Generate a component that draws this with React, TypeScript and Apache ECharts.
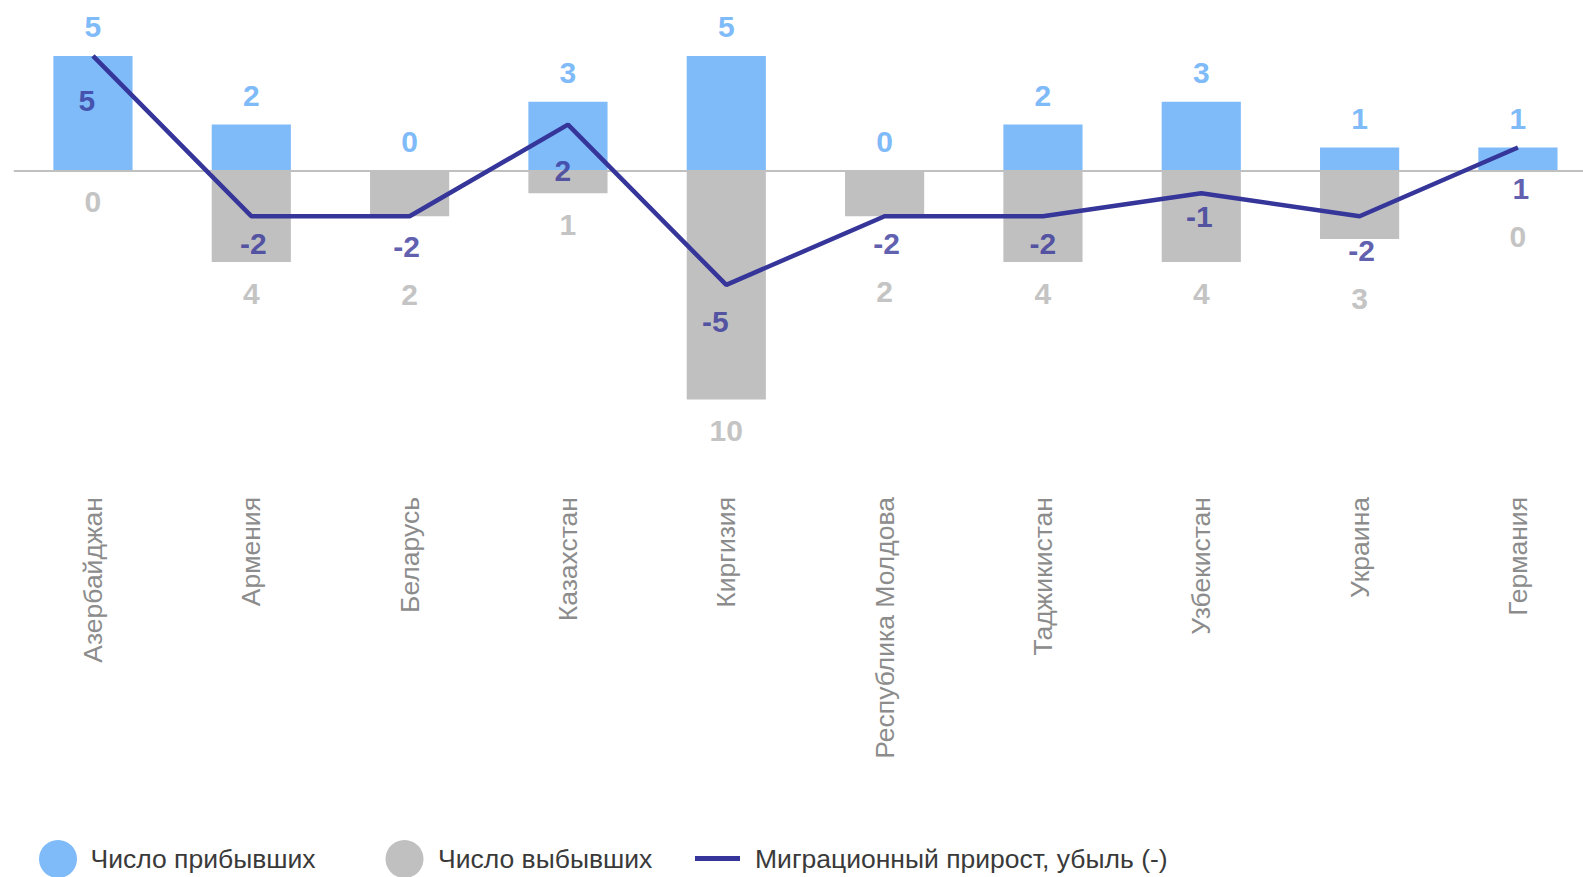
import React, { useEffect, useRef } from "react";
import * as echarts from "echarts";

// ---- data ----
const categories = [
  "Азербайджан",
  "Армения",
  "Беларусь",
  "Казахстан",
  "Киргизия",
  "Республика Молдова",
  "Таджикистан",
  "Узбекистан",
  "Украина",
  "Германия",
];
const arrivals = [5, 2, 0, 3, 5, 0, 2, 3, 1, 1];
const departures = [0, 4, 2, 1, 10, 2, 4, 4, 3, 0];
const netMigration = [5, -2, -2, 2, -5, -2, -2, -1, -2, 1];
const seriesNames = [
  "Число прибывших",
  "Число выбывших",
  "Миграционный прирост, убыль (-)",
];

// ---- label layout (pixel nudges of the net-migration labels, as in the reference) ----
const netLabelDx = [-6, 2, -3, -5, -11, 2, 0, -2, 2, 3];
const netLabelDy = [46, 28, 31, 47, 38, 28, 28, 24, 35, 42];

const FONT = '"Liberation Sans", Arial, Helvetica, sans-serif';
const BLUE = "#7fbaf9";
const GRAY = "#c0c0c0";
const GRAY_LABEL = "#c4c4c4";
const NAVY = "#35359a";

const Y_MIN = -14;
const Y_MAX = 6;
const GRID_TOP = 33;
const GRID_HEIGHT = 458;

export default function App() {
  const ref = useRef<HTMLDivElement>(null);

  useEffect(() => {
    if (!ref.current) return;
    const chart = echarts.init(ref.current, undefined, { renderer: "svg" });

    const pxPerUnit = GRID_HEIGHT / (Y_MAX - Y_MIN);
    const zeroPx = GRID_TOP + Y_MAX * pxPerUnit;
    const toPx = (v: number) => zeroPx - v * pxPerUnit;

    // push the departures label down when the net-migration label sits in its way
    const departureLabelShift = departures.map((d, i) => {
      const defaultCenter = toPx(-d) + 32;
      const netCenter = toPx(netMigration[i]) + netLabelDy[i];
      return Math.max(0, netCenter + 48 - defaultCenter);
    });

    const legendBase = {
      itemWidth: 45,
      itemHeight: 38,
      selectedMode: false,
    };
    const legendText = (padLeft: number) => ({
      fontSize: 26.5,
      color: "#3a3a3a",
      fontFamily: FONT,
      padding: [0, 0, 0, padLeft],
    });

    chart.setOption({
      animation: false,
      backgroundColor: "#ffffff",
      textStyle: { fontFamily: FONT },
      grid: {
        left: 13.8,
        width: 1583.3,
        top: GRID_TOP,
        height: GRID_HEIGHT,
        containLabel: false,
        outerBoundsMode: "none",
      },
      legend: [
        { ...legendBase, top: 835, left: 34, textStyle: legendText(5), data: [{ name: seriesNames[0], icon: "circle" }] },
        { ...legendBase, top: 835, left: 380.5, textStyle: legendText(6), data: [{ name: seriesNames[1], icon: "circle" }] },
        {
          ...legendBase,
          top: 840,
          left: 690,
          textStyle: legendText(10),
          data: [{ name: seriesNames[2], icon: "path://M0,0H45V5H0Z" }],
        },
      ],
      xAxis: {
        type: "category",
        data: categories,
        axisLine: { show: false },
        axisTick: { show: false },
        axisLabel: {
          rotate: 90,
          margin: 6,
          fontSize: 26.5,
          color: "#8c8c8c",
          fontFamily: FONT,
          interval: 0,
        },
      },
      yAxis: {
        type: "value",
        min: Y_MIN,
        max: Y_MAX,
        show: false,
        splitLine: { show: false },
      },
      series: [
        {
          name: seriesNames[0],
          type: "bar",
          data: arrivals,
          barWidth: "50%",
          barGap: "-100%",
          itemStyle: { color: BLUE },
          label: {
            show: true,
            position: "top",
            distance: 14,
            fontSize: 30,
            fontWeight: "bold",
            color: BLUE,
            fontFamily: FONT,
          },
          markLine: {
            silent: true,
            symbol: "none",
            label: { show: false },
            lineStyle: { color: GRAY, width: 2, type: "solid" },
            data: [{ yAxis: 0 }],
          },
        },
        {
          name: seriesNames[1],
          type: "bar",
          data: departures.map((v, i) => ({
            value: -v,
            label: { offset: [0, departureLabelShift[i]] },
          })),
          barWidth: "50%",
          barGap: "-100%",
          itemStyle: { color: GRAY },
          label: {
            show: true,
            position: "bottom",
            distance: 16,
            fontSize: 30,
            fontWeight: "bold",
            color: GRAY_LABEL,
            fontFamily: FONT,
            formatter: (p: any) => String(Math.abs(p.value)),
          },
        },
        {
          name: seriesNames[2],
          type: "line",
          data: netMigration,
          symbol: "none",
          z: 5,
          lineStyle: { color: NAVY, width: 4.5 },
          itemStyle: { color: NAVY },
        },
        {
          name: "net-labels",
          type: "scatter",
          data: netMigration.map((v, i) => ({
            value: v,
            label: { offset: [netLabelDx[i], netLabelDy[i] - 1] },
          })),
          symbolSize: 0,
          z: 6,
          itemStyle: { color: NAVY },
          label: {
            show: true,
            position: "inside",
            fontSize: 30,
            fontWeight: "bold",
            color: NAVY,
            fontFamily: FONT,
          },
        },
      ],
    });
    return () => chart.dispose();
  }, []);

  return (
    <div
      ref={ref}
      style={{ position: "fixed", left: 0, top: 0, width: 1583, height: 877 }}
    />
  );
}
